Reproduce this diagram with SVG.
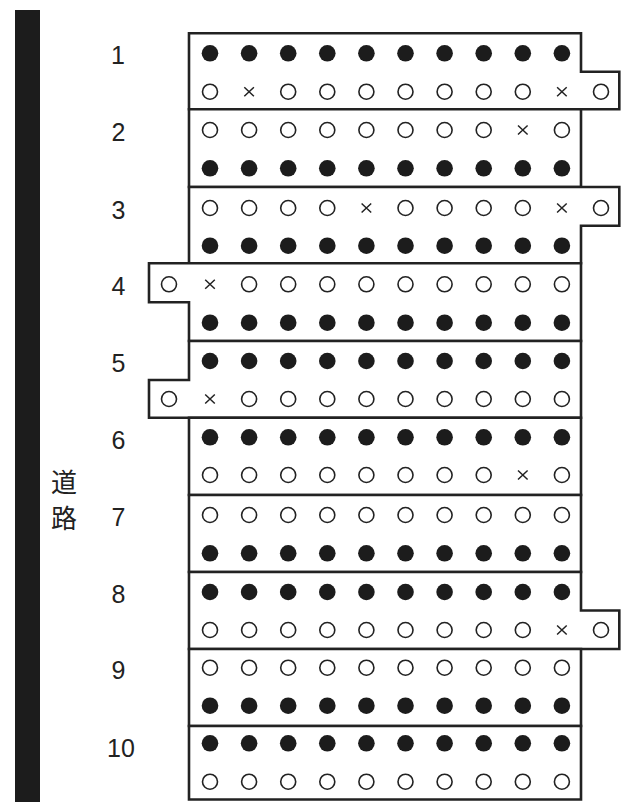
<svg xmlns="http://www.w3.org/2000/svg" xmlns:xlink="http://www.w3.org/1999/xlink" width="621" height="802" viewBox="0 0 621 802">
<style>
.ol{fill:#fff;stroke:#222;stroke-width:2.6;stroke-linejoin:miter}
.f{fill:#1c1c1c}
.o{fill:#fff;stroke:#222;stroke-width:1.6}
.x{fill:none;stroke:#222;stroke-width:1.5}
.num{font-family:"Liberation Sans",Arial,sans-serif;font-size:25px;fill:#222;text-anchor:middle}
.cjk{font-family:"Noto Sans CJK JP","Noto Sans CJK SC",sans-serif;font-size:26px;fill:#222;text-anchor:middle}
</style>
<defs>
<circle id="f" class="f" r="8.3"/>
<circle id="o" class="o" r="7.5"/>
<path id="x" class="x" d="M-4.8,-4.5L4.8,4.5M-4.8,4.5L4.8,-4.5"/>
<g id="rowF">
<use href="#f" x="210"/><use href="#f" x="249.1"/><use href="#f" x="288.2"/><use href="#f" x="327.3"/><use href="#f" x="366.4"/><use href="#f" x="405.5"/><use href="#f" x="444.6"/><use href="#f" x="483.7"/><use href="#f" x="522.8"/><use href="#f" x="561.9"/>
</g>
<g id="rowO">
<use href="#o" x="210"/><use href="#o" x="249.1"/><use href="#o" x="288.2"/><use href="#o" x="327.3"/><use href="#o" x="366.4"/><use href="#o" x="405.5"/><use href="#o" x="444.6"/><use href="#o" x="483.7"/><use href="#o" x="522.8"/><use href="#o" x="561.9"/>
</g>
</defs>
<rect x="0" y="0" width="621" height="802" fill="#fff"/>
<g id="road">
<rect x="15" y="10" width="25" height="792" fill="#1c1c1c"/>
<text class="cjk" x="64" y="492">道</text>
<text class="cjk" x="64" y="528">路</text>
</g>
<g id="connectors"></g>

<g id="block1">
<path class="ol" d="M189,33.3H581V71.7H619.3V109.3H189Z"/>
<text class="num" x="118" y="64.4">1</text>
<use href="#rowF" y="53.3"/>
<g transform="translate(0,91.7)">
<use href="#o" x="210"/><use href="#x" x="249.1"/><use href="#o" x="288.2"/><use href="#o" x="327.3"/><use href="#o" x="366.4"/><use href="#o" x="405.5"/><use href="#o" x="444.6"/><use href="#o" x="483.7"/><use href="#o" x="522.8"/><use href="#x" x="561.9"/><use href="#o" x="601"/>
</g>
</g>

<g id="block2">
<path class="ol" d="M189,109.3H581V187H189Z"/>
<text class="num" x="118.5" y="141">2</text>
<g transform="translate(0,130)">
<use href="#o" x="210"/><use href="#o" x="249.1"/><use href="#o" x="288.2"/><use href="#o" x="327.3"/><use href="#o" x="366.4"/><use href="#o" x="405.5"/><use href="#o" x="444.6"/><use href="#o" x="483.7"/><use href="#x" x="522.8"/><use href="#o" x="561.9"/>
</g>
<use href="#rowF" y="168.3"/>
</g>

<g id="block3">
<path class="ol" d="M189,187H619.3V225.7H581V263.3H189Z"/>
<text class="num" x="118.5" y="219">3</text>
<g transform="translate(0,208)">
<use href="#o" x="210"/><use href="#o" x="249.1"/><use href="#o" x="288.2"/><use href="#o" x="327.3"/><use href="#x" x="366.4"/><use href="#o" x="405.5"/><use href="#o" x="444.6"/><use href="#o" x="483.7"/><use href="#o" x="522.8"/><use href="#x" x="561.9"/><use href="#o" x="601"/>
</g>
<use href="#rowF" y="245.7"/>
</g>

<g id="block4">
<path class="ol" d="M149,263.3H581V341H189V302.3H149Z"/>
<text class="num" x="118.5" y="295">4</text>
<g transform="translate(0,284.3)">
<use href="#o" x="169"/><use href="#x" x="210"/><use href="#o" x="249.1"/><use href="#o" x="288.2"/><use href="#o" x="327.3"/><use href="#o" x="366.4"/><use href="#o" x="405.5"/><use href="#o" x="444.6"/><use href="#o" x="483.7"/><use href="#o" x="522.8"/><use href="#o" x="561.9"/>
</g>
<use href="#rowF" y="322.7"/>
</g>

<g id="block5">
<path class="ol" d="M189,341H581V417.7H149V380H189Z"/>
<text class="num" x="118.5" y="372">5</text>
<use href="#rowF" y="361"/>
<g transform="translate(0,399)">
<use href="#o" x="169"/><use href="#x" x="210"/><use href="#o" x="249.1"/><use href="#o" x="288.2"/><use href="#o" x="327.3"/><use href="#o" x="366.4"/><use href="#o" x="405.5"/><use href="#o" x="444.6"/><use href="#o" x="483.7"/><use href="#o" x="522.8"/><use href="#o" x="561.9"/>
</g>
</g>

<g id="block6">
<path class="ol" d="M189,417.7H581V495H189Z"/>
<text class="num" x="118.5" y="448.5">6</text>
<use href="#rowF" y="437.3"/>
<g transform="translate(0,475)">
<use href="#o" x="210"/><use href="#o" x="249.1"/><use href="#o" x="288.2"/><use href="#o" x="327.3"/><use href="#o" x="366.4"/><use href="#o" x="405.5"/><use href="#o" x="444.6"/><use href="#o" x="483.7"/><use href="#x" x="522.8"/><use href="#o" x="561.9"/>
</g>
</g>

<g id="block7">
<path class="ol" d="M189,495H581V572H189Z"/>
<text class="num" x="118.5" y="526">7</text>
<use href="#rowO" y="515"/>
<use href="#rowF" y="553.3"/>
</g>

<g id="block8">
<path class="ol" d="M189,572H581V610.5H619.3V649H189Z"/>
<text class="num" x="118.5" y="603">8</text>
<use href="#rowF" y="592"/>
<g transform="translate(0,630)">
<use href="#o" x="210"/><use href="#o" x="249.1"/><use href="#o" x="288.2"/><use href="#o" x="327.3"/><use href="#o" x="366.4"/><use href="#o" x="405.5"/><use href="#o" x="444.6"/><use href="#o" x="483.7"/><use href="#o" x="522.8"/><use href="#x" x="561.9"/><use href="#o" x="601"/>
</g>
</g>

<g id="block9">
<path class="ol" d="M189,649H581V726H189Z"/>
<text class="num" x="118.5" y="679">9</text>
<use href="#rowO" y="667.7"/>
<use href="#rowF" y="705.7"/>
</g>

<g id="block10">
<path class="ol" d="M189,726H581V799.5H189Z"/>
<text class="num" x="121" y="756.5">10</text>
<use href="#rowF" y="743.3"/>
<use href="#rowO" y="781.7"/>
</g>
</svg>
